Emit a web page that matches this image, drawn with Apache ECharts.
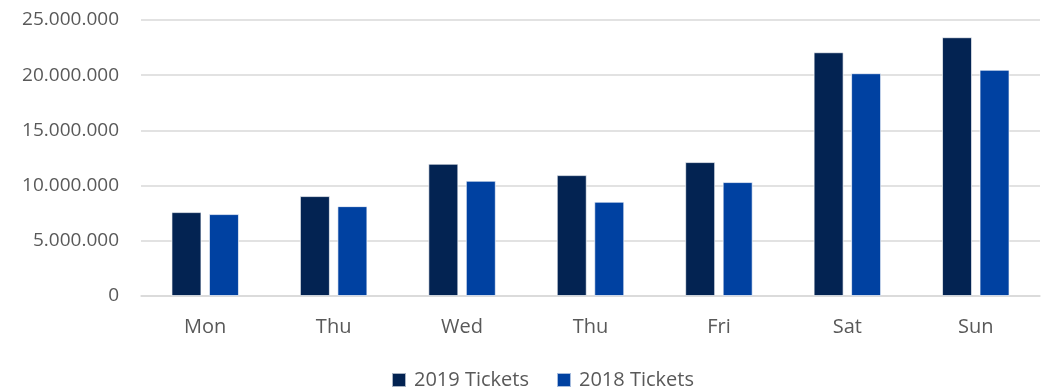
<!DOCTYPE html>
<html>
<head>
<meta charset="utf-8">
<script src="https://cdn.jsdelivr.net/npm/echarts@6/dist/echarts.min.js"></script>
<style>
html,body{margin:0;padding:0;background:#fff;}
#chart{width:1048px;height:391px;}
</style>
</head>
<body>
<div id="chart"></div>
<script>
const categories = ['Mon', 'Thu', 'Wed', 'Thu', 'Fri', 'Sat', 'Sun'];
const tickets2019 = [7600000, 9050000, 11980000, 10950000, 12130000, 22080000, 23440000];
const tickets2018 = [7420000, 8140000, 10440000, 8540000, 10320000, 20180000, 20490000];
const seriesNames = ['2019 Tickets', '2018 Tickets'];

const font = 'Open Sans';
const chart = echarts.init(document.getElementById('chart'));
chart.setOption({
  animation: false,
  grid: { left: 141, right: 8, top: 20, bottom: 95, containLabel: false },
  legend: {
    data: seriesNames,
    top: 365,
    left: 386,
    itemWidth: 14,
    itemHeight: 14,
    itemGap: 27,
    icon: 'rect',
    textStyle: { fontFamily: font, fontSize: 20, color: '#595959', padding: [0, 0, 0, 3] }
  },
  xAxis: {
    type: 'category',
    data: categories,
    axisLine: { lineStyle: { color: '#d9d9d9', width: 1.5 } },
    axisTick: { show: false },
    axisLabel: { fontFamily: font, fontSize: 20, color: '#595959', margin: 21 }
  },
  yAxis: {
    type: 'value',
    min: 0,
    max: 25000000,
    interval: 5000000,
    axisLine: { show: false },
    axisTick: { show: false },
    splitLine: { lineStyle: { color: '#d9d9d9', width: 1.5 } },
    axisLabel: {
      fontFamily: font, fontSize: 19, color: '#595959', margin: 22,
      formatter: v => v === 0 ? '0' : v.toString().replace(/\B(?=(\d{3})+(?!\d))/g, '.')
    }
  },
  series: [
    {
      name: seriesNames[0], type: 'bar', data: tickets2019,
      barWidth: 30, barGap: '25%',
      itemStyle: { color: '#032352', borderColor: 'rgba(255,255,255,0.65)', borderWidth: 1 }
    },
    {
      name: seriesNames[1], type: 'bar', data: tickets2018,
      barWidth: 30,
      itemStyle: { color: '#0041A1', borderColor: 'rgba(255,255,255,0.65)', borderWidth: 1 }
    }
  ]
});
</script>
</body>
</html>
